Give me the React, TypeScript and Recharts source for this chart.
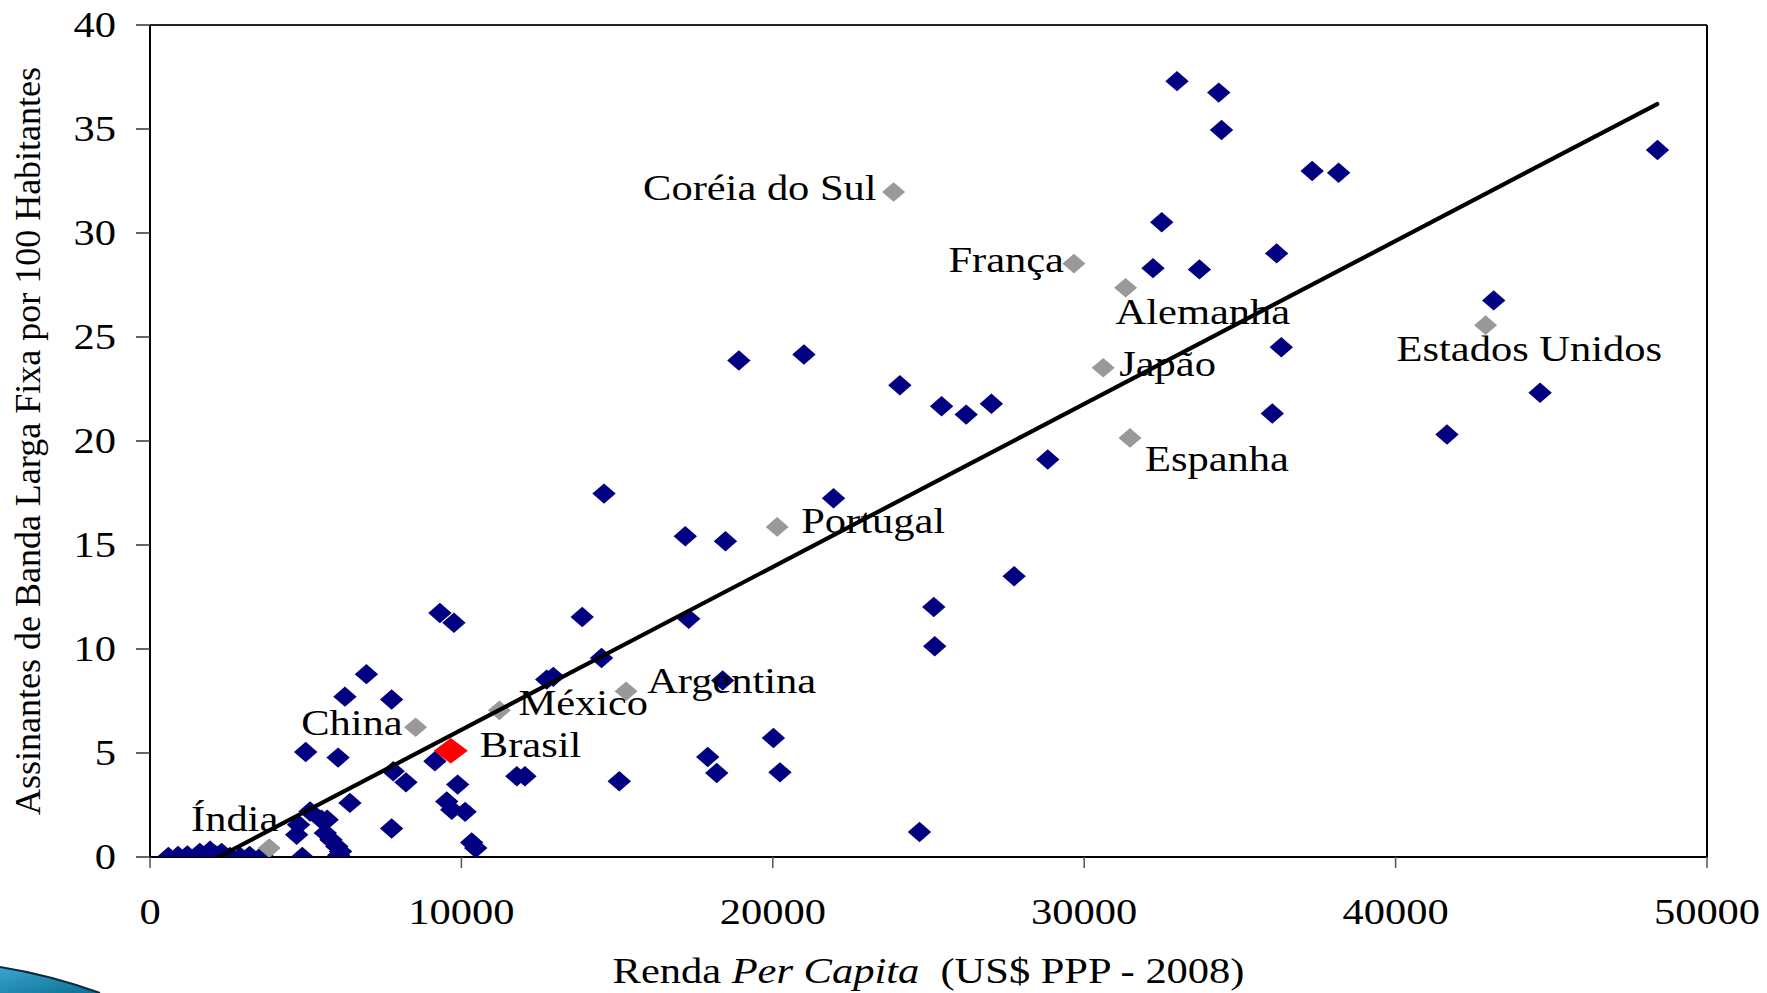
import React from 'react';
import { ScatterChart, Scatter, XAxis, YAxis, ReferenceLine } from 'recharts';

// ---------- data ----------
const xTicks = [0, 10000, 20000, 30000, 40000, 50000];
const yTicks = [0, 5, 10, 15, 20, 25, 30, 35, 40];

const otherCountries = [
  { x: 32980, y: 37.3 }, { x: 34320, y: 36.75 }, { x: 34410, y: 34.95 },
  { x: 37320, y: 32.98 }, { x: 38170, y: 32.9 }, { x: 48410, y: 33.99 },
  { x: 32490, y: 30.52 }, { x: 32210, y: 28.31 }, { x: 33700, y: 28.25 },
  { x: 36180, y: 29.02 }, { x: 36330, y: 24.51 }, { x: 43150, y: 26.76 },
  { x: 44640, y: 22.32 }, { x: 41650, y: 20.31 }, { x: 36040, y: 21.32 },
  { x: 28830, y: 19.11 }, { x: 27750, y: 13.5 }, { x: 25170, y: 12.02 },
  { x: 25200, y: 10.13 }, { x: 24710, y: 1.2 }, { x: 24080, y: 22.68 },
  { x: 25420, y: 21.67 }, { x: 26210, y: 21.27 }, { x: 27020, y: 21.79 },
  { x: 21000, y: 24.16 }, { x: 18910, y: 23.87 }, { x: 21950, y: 17.25 },
  { x: 14580, y: 17.47 }, { x: 17190, y: 15.42 }, { x: 18480, y: 15.18 },
  { x: 17300, y: 11.45 }, { x: 13880, y: 11.54 }, { x: 14500, y: 9.57 },
  { x: 12740, y: 8.53 }, { x: 12950, y: 8.66 }, { x: 18390, y: 8.49 },
  { x: 20020, y: 5.72 }, { x: 20230, y: 4.07 }, { x: 17910, y: 4.81 },
  { x: 18200, y: 4.04 }, { x: 15070, y: 3.64 }, { x: 11780, y: 3.88 },
  { x: 12040, y: 3.88 }, { x: 9310, y: 11.73 }, { x: 9760, y: 11.26 },
  { x: 6950, y: 8.79 }, { x: 6260, y: 7.71 }, { x: 7760, y: 7.57 },
  { x: 5000, y: 5.05 }, { x: 6040, y: 4.78 }, { x: 9150, y: 4.6 },
  { x: 7810, y: 4.12 }, { x: 8220, y: 3.59 }, { x: 9880, y: 3.48 },
  { x: 6420, y: 2.6 }, { x: 9530, y: 2.67 }, { x: 9690, y: 2.27 },
  { x: 10120, y: 2.17 }, { x: 7760, y: 1.37 }, { x: 10330, y: 0.7 },
  { x: 10460, y: 0.43 },
  { x: 4710, y: 1.07 }, { x: 4770, y: 1.55 }, { x: 4890, y: 0.0 },
  { x: 5140, y: 2.19 }, { x: 5510, y: 1.79 }, { x: 5690, y: 1.79 },
  { x: 5630, y: 1.15 }, { x: 5810, y: 0.83 }, { x: 6000, y: 0.51 },
  { x: 6120, y: 0.27 }, { x: 6060, y: 0.08 },
  { x: 590, y: 0.0 }, { x: 900, y: 0.05 }, { x: 1200, y: 0.08 },
  { x: 1600, y: 0.2 }, { x: 1930, y: 0.3 }, { x: 2100, y: 0.1 },
  { x: 2300, y: 0.2 }, { x: 2570, y: 0.0 }, { x: 2900, y: 0.0 },
  { x: 3200, y: 0.05 }, { x: 3600, y: 0.05 },
];

const highlightedNames = ['Índia', 'China', 'México', 'Argentina', 'Portugal', 'Coréia do Sul', 'França', 'Alemanha', 'Japão', 'Espanha', 'Estados Unidos'];
const highlightedIncome = [3830, 8530, 11220, 15290, 20140, 23880, 29670, 31330, 30610, 31470, 42890];
const highlightedBroadband = [0.43, 6.24, 7.05, 7.97, 15.87, 31.97, 28.53, 27.37, 23.52, 20.15, 25.57];

const brazilName = ['Brasil'];
const brazilIncome = [9660];
const brazilBroadband = [5.11];

const trendIncome = [2200, 48400];
const trendBroadband = [0, 36.2];

// ---------- derived tables ----------
const highlighted = highlightedNames.map((name, i) => ({ name, x: highlightedIncome[i], y: highlightedBroadband[i] }));
const brazil = brazilName.map((name, i) => ({ name, x: brazilIncome[i], y: brazilBroadband[i] }));
const trendLine = trendIncome.map((x, i) => ({ x, y: trendBroadband[i] }));

// ---------- styles / layout ----------
const FONT = '"Liberation Serif", "Times New Roman", Times, serif';
const FS = 36;
const STRETCH = 1.18;
const NAVY = '#000080';
const GRAY = '#999999';
const RED = '#ff0000';

const labelLayout: Record<string, { dx: number; dy: number; anchor: 'start' | 'end' | 'middle' }> = {
  'Coréia do Sul': { dx: -17, dy: 8, anchor: 'end' },
  'França': { dx: -10, dy: 8, anchor: 'end' },
  'Alemanha': { dx: -10, dy: 36, anchor: 'start' },
  'Japão': { dx: 16, dy: 8, anchor: 'start' },
  'Espanha': { dx: 15, dy: 33, anchor: 'start' },
  'Estados Unidos': { dx: -89, dy: 36, anchor: 'start' },
  'Portugal': { dx: 24, dy: 6, anchor: 'start' },
  'Argentina': { dx: 21, dy: 2, anchor: 'start' },
  'México': { dx: 19, dy: 5, anchor: 'start' },
  'China': { dx: -13, dy: 8, anchor: 'end' },
  'Brasil': { dx: 29, dy: 6, anchor: 'start' },
  'Índia': { dx: 9, dy: -17, anchor: 'end' },
};

const Diamond = ({ cx, cy, hw, hh, fill }: { cx: number; cy: number; hw: number; hh: number; fill: string }) => (
  <polygon points={`${cx},${cy - hh} ${cx + hw},${cy} ${cx},${cy + hh} ${cx - hw},${cy}`} fill={fill} />
);

const StretchText = ({ x, y, anchor, children, style }: any) => (
  <text
    transform={`translate(${x},${y}) scale(${STRETCH},1)`}
    textAnchor={anchor}
    fontFamily={FONT}
    fontSize={FS}
    fill="#000"
    style={{ whiteSpace: 'pre', ...(style || {}) }}
  >
    {children}
  </text>
);

const navyShape = (props: any) => <Diamond cx={props.cx} cy={props.cy} hw={11.7} hh={10.2} fill={NAVY} />;

const labeledShape = (fill: string, hw: number, hh: number) => (props: any) => {
  const name = props.payload?.name ?? props.name;
  const lay = labelLayout[name];
  return (
    <g>
      <Diamond cx={props.cx} cy={props.cy} hw={hw} hh={hh} fill={fill} />
      {lay && (
        <StretchText x={props.cx + lay.dx} y={props.cy + lay.dy} anchor={lay.anchor}>
          {name}
        </StretchText>
      )}
    </g>
  );
};

const XTick = (props: any) => (
  <StretchText x={props.x} y={props.y + 54} anchor="middle">
    {props.payload.value}
  </StretchText>
);

const YTick = (props: any) => (
  <StretchText x={props.x - 18} y={props.y + 12} anchor="end">
    {props.payload.value}
  </StretchText>
);

const XTitle = (props: any) => {
  const vb = props.viewBox || { x: 150, y: 857, width: 1557, height: 136 };
  return (
    <StretchText x={vb.x + vb.width / 2} y={vb.y + 126} anchor="middle">
      <tspan>Renda </tspan>
      <tspan fontStyle="italic">Per Capita</tspan>
      <tspan>{'  (US$ PPP - 2008)'}</tspan>
    </StretchText>
  );
};

const YTitle = (props: any) => {
  const vb = props.viewBox || { x: 0, y: 25, width: 150, height: 832 };
  const cx = vb.x + 40;
  const cy = vb.y + vb.height / 2;
  return (
    <text
      transform={`translate(${cx},${cy}) rotate(-90)`}
      textAnchor="middle"
      fontFamily={FONT}
      fontSize={FS}
      fill="#000"
    >
      Assinantes de Banda Larga Fixa por 100 Habitantes
    </text>
  );
};

const Swoosh = () => (
  <svg width={130} height={70} style={{ position: 'absolute', left: 0, top: 925 }}>
    <defs>
      <linearGradient id="sw" x1="0" y1="0" x2="1" y2="1">
        <stop offset="0%" stopColor="#3aa6cf" />
        <stop offset="100%" stopColor="#0d6e93" />
      </linearGradient>
    </defs>
    <path d="M0,42 Q50,50 100,68 L0,68 Z" fill="url(#sw)" />
    <path d="M0,42 Q50,50 100,68" fill="none" stroke="#0a2a3a" strokeWidth={2} />
  </svg>
);

export default function App() {
  return (
    <div style={{ position: 'absolute', left: 0, top: 0, width: 1767, height: 993, background: '#fff', overflow: 'hidden' }}>
      <ScatterChart width={1767} height={993} margin={{ top: 25, right: 60, bottom: 0, left: 0 }}>
        <XAxis
          type="number"
          dataKey="x"
          domain={[0, 50000]}
          ticks={xTicks}
          interval={0}
          height={136}
          tickSize={11}
          tickMargin={2}
          axisLine={{ stroke: '#000', strokeWidth: 2 }}
          tickLine={{ stroke: '#555', strokeWidth: 1.5 }}
          tick={XTick}
          label={{ content: XTitle }}
          allowDataOverflow
        />
        <YAxis
          type="number"
          dataKey="y"
          domain={[0, 40]}
          ticks={yTicks}
          interval={0}
          width={150}
          tickSize={14}
          tickMargin={2}
          axisLine={{ stroke: '#000', strokeWidth: 2 }}
          tickLine={{ stroke: '#333', strokeWidth: 1.5 }}
          tick={YTick}
          label={{ content: YTitle }}
          allowDataOverflow
        />
        <ReferenceLine y={40} stroke="#222" strokeWidth={2} />
        <ReferenceLine x={50000} stroke="#000" strokeWidth={2} />
        <Scatter data={otherCountries} shape={navyShape} isAnimationActive={false} />
        <Scatter data={highlighted} shape={labeledShape(GRAY, 11.5, 9.8)} isAnimationActive={false} />
        <Scatter data={brazil} shape={labeledShape(RED, 17, 12.8)} isAnimationActive={false} />
        <Scatter
          data={trendLine}
          line={{ stroke: '#000', strokeWidth: 4.2, strokeLinecap: 'round' }}
          shape={() => <g />}
          fill="none"
          isAnimationActive={false}
        />
      </ScatterChart>
      <Swoosh />
    </div>
  );
}
